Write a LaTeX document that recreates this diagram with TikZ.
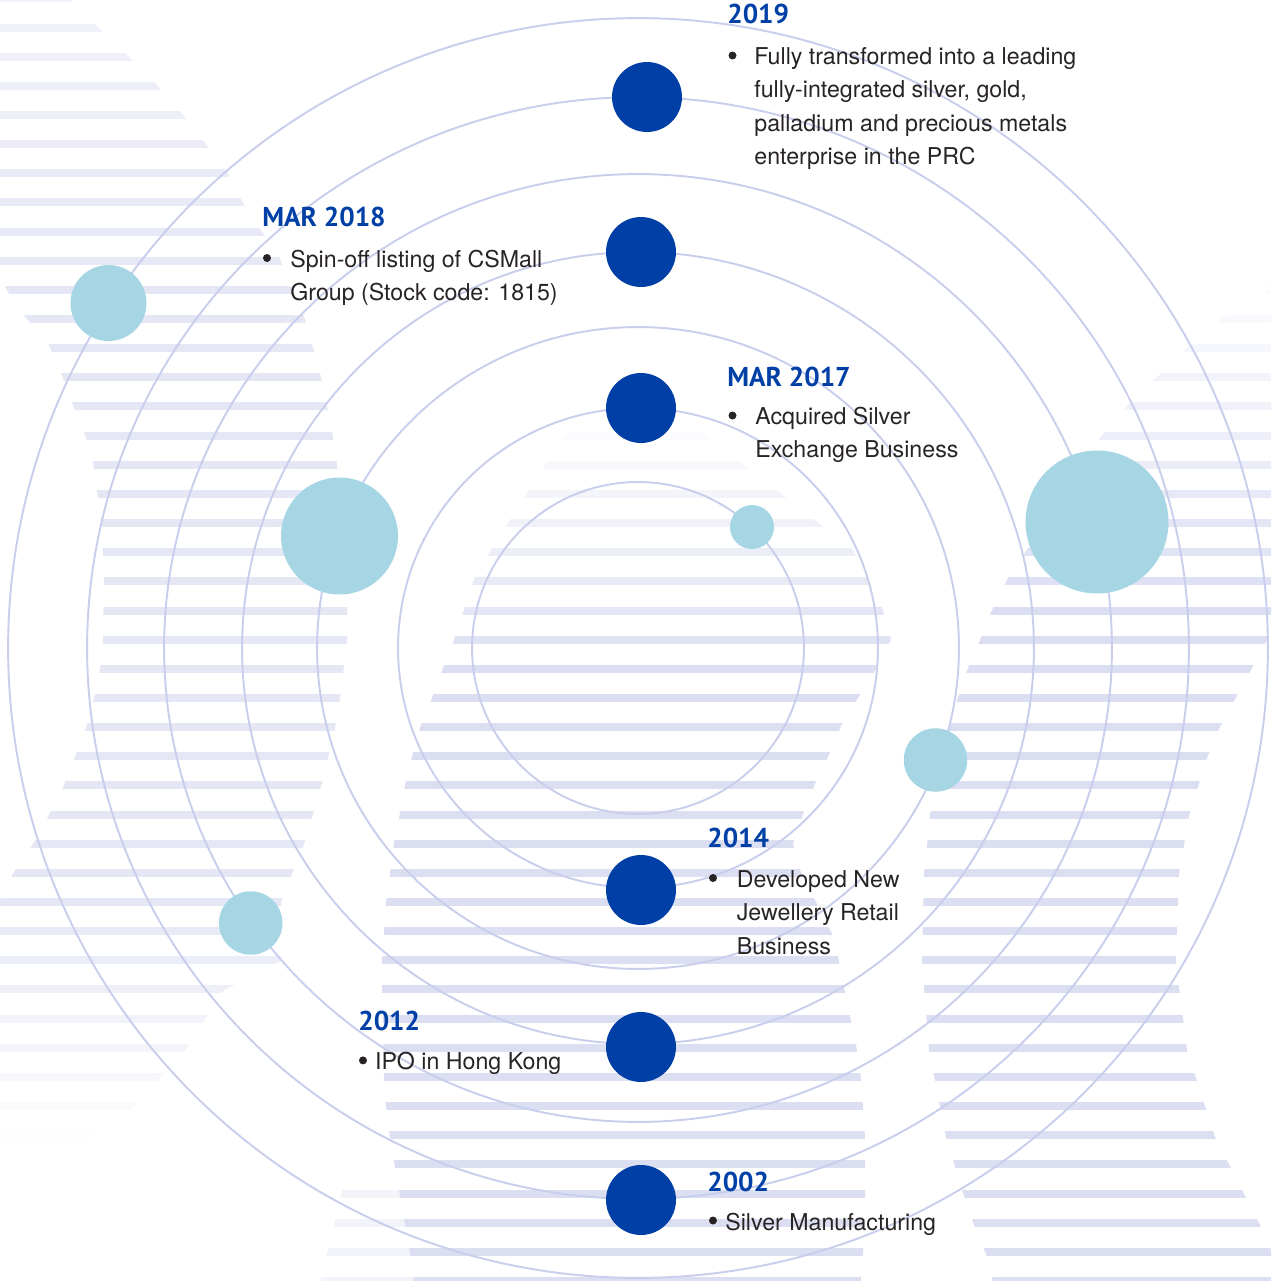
\documentclass[tikz,border=0pt]{standalone}
\usepackage{fontspec}
\setmainfont{TeX Gyre Heros}
\newfontfamily\yearfont{PT Sans}
\usepackage{xcolor}
\usepackage{tikz}

\definecolor{dotblue}{RGB}{0,64,166}
\definecolor{dotcyan}{RGB}{166,214,228}
\definecolor{ringblue}{RGB}{200,206,236}
\definecolor{stripeblue}{RGB}{220,223,242}
\definecolor{bodygray}{RGB}{40,36,37}

\tikzset{
  stripe/.style={fill=stripeblue},
  ring/.style={draw=ringblue, line width=1.1pt},
  darkdot/.style={circle, fill=dotblue, inner sep=0pt, minimum size=1.4cm},
  lightdot/.style={circle, fill=dotcyan, inner sep=0pt},
  bulletdot/.style={circle, fill=bodygray, inner sep=0pt, minimum size=0.16cm},
  yearlabel/.style={anchor=base west, inner sep=0pt, text=dotblue,
    font=\yearfont\bfseries\fontsize{15.5}{18}\selectfont},
  bodytext/.style={anchor=base west, inner sep=0pt, text=bodygray,
    font=\fontsize{13.2}{19}\selectfont},
}

\begin{document}
\begin{tikzpicture}[x=0.02cm, y=-0.02cm]
  \useasboundingbox (0,0) rectangle (1271,1281);
  \clip (0,0) rectangle (1271,1281);

  % striped background, left band
  \begin{scope}
    \clip (0,-10) -- (62,-10) -- (98,27) -- (128,56) -- (157,85) -- (182,114)
      -- (205,143) -- (227,172) -- (243,203) -- (280,259) -- (304,316)
      -- (320,373) -- (332,430) -- (340,486) -- (346,560) -- (348,632)
      -- (340,700) -- (335,728) -- (321,787) -- (304,844) -- (292,874)
      -- (281,902) -- (281,961) -- (223,991) -- (187,1048) -- (134,1107)
      -- (60,1160) -- (0,1180) -- (0,900) -- (14,872) -- (33,844) -- (49,815)
      -- (63,787) -- (75,757) -- (86,728) -- (94,698) -- (100,669)
      -- (103,640) -- (104,575) -- (101,519) -- (93,462) -- (85,434)
      -- (73,405) -- (61,373) -- (49,345) -- (26,318) -- (6,289) -- (0,275)
      -- cycle;
    \foreach \k in {0,...,44} {
      \pgfmathsetmacro\yc{-1.65+29.15*\k}
      \pgfmathsetmacro\op{max(0,min(0.75,0.4+\yc/800,(1150-\yc)/330))}
      \fill[stripe, fill opacity=\op] (-10,\yc-4) rectangle (1290,\yc+4);
    }
  \end{scope}

  % striped background, centre group
  \begin{scope}
    \clip (630,415) -- (700,430) -- (853,550) -- (883,610) -- (891,640)
      -- (876,669) -- (858,698) -- (841,726) -- (828,757) -- (814,786)
      -- (803,814) -- (793,844) -- (800,870) -- (835,940) -- (845,992)
      -- (851,1021) -- (857,1050) -- (861,1079) -- (865,1137) -- (865,1230)
      -- (860,1290) -- (415,1290) -- (410,1254) -- (405,1225) -- (400,1196)
      -- (395,1167) -- (390,1137) -- (386,1107) -- (384,1078) -- (382,991)
      -- (382,961) -- (384,933) -- (386,904) -- (390,874) -- (394,843)
      -- (400,813) -- (405,785) -- (412,757) -- (420,728) -- (432,698)
      -- (443,668) -- (454,640) -- (474,579) -- (491,550) -- (527,493)
      -- (566,433) -- cycle;
    \foreach \k in {0,...,44} {
      \pgfmathsetmacro\yc{-1.65+29.15*\k}
      \pgfmathsetmacro\op{max(0,min(1,(\yc-410)/260))}
      \fill[stripe, fill opacity=\op] (-10,\yc-4) rectangle (1290,\yc+4);
    }
  \end{scope}
  \begin{scope}
    \clip (345,1180) -- (400,1180) -- (415,1290) -- (318,1290) -- cycle;
    \foreach \k in {40,...,44} {
      \pgfmathsetmacro\yc{-1.65+29.15*\k}
      \fill[stripe, fill opacity=0.35] (-10,\yc-4) rectangle (1290,\yc+4);
    }
  \end{scope}

  % striped background, right group
  \begin{scope}
    \clip (1271,270) -- (1267,290) -- (1222,318) -- (1187,347) -- (1157,377)
      -- (1128,405) -- (1102,435) -- (1007,580) -- (992,610) -- (980,640)
      -- (968,668) -- (958,697) -- (948,729) -- (938,758) -- (930,816)
      -- (924,874) -- (922,962) -- (929,1050) -- (946,1137) -- (964,1196)
      -- (974,1225) -- (986,1254) -- (995,1290) -- (1271,1290)
      -- (1271,1250) -- (1260,1225) -- (1215,1137) -- (1187,1050)
      -- (1176,962) -- (1179,874) -- (1189,816) -- (1207,758) -- (1219,729)
      -- (1235,699) -- (1252,668) -- (1267,640) -- (1271,630) -- cycle;
    \foreach \k in {0,...,44} {
      \pgfmathsetmacro\yc{-1.65+29.15*\k}
      \pgfmathsetmacro\op{max(0,min(1,(\yc-260)/340))}
      \fill[stripe, fill opacity=\op] (-10,\yc-4) rectangle (1290,\yc+4);
    }
  \end{scope}

  % rings
  \coordinate (ctr) at (638,648);
  \draw[ring] (ctr) circle[radius=3.32cm];
  \draw[ring] (ctr) circle[radius=4.80cm];
  \draw[ring] (ctr) circle[radius=6.42cm];
  \draw[ring] (ctr) circle[radius=7.92cm];
  \draw[ring] (ctr) circle[radius=9.48cm];
  \draw[ring] (ctr) circle[radius=11.02cm];
  \draw[ring] (ctr) circle[radius=12.60cm];

  % light dots
  \node[lightdot, minimum size=1.52cm] (orbA) at (108.5,303) {};
  \node[lightdot, minimum size=2.34cm] (orbB) at (339.5,536) {};
  \node[lightdot, minimum size=0.88cm] (orbC) at (752,527) {};
  \node[lightdot, minimum size=2.86cm] (orbD) at (1097,522) {};
  \node[lightdot, minimum size=1.27cm] (orbE) at (935.5,760) {};
  \node[lightdot, minimum size=1.27cm] (orbF) at (250.7,923) {};

  % milestone dots
  \node[darkdot] (d2019) at (647,97) {};
  \node[darkdot] (d2018) at (641,252) {};
  \node[darkdot] (d2017) at (641,408) {};
  \node[darkdot] (d2014) at (641,890) {};
  \node[darkdot] (d2012) at (641,1047) {};
  \node[darkdot] (d2002) at (641,1200) {};

  % 2019
  \node[yearlabel] (y2019) at (727,23.5) {2019};
  \node[bulletdot] (b2019) at (732.5,55.5) {};
  \node[bodytext] (t2019) at (754,64.5) {\begin{tabular}[t]{@{}l@{}}
    Fully transformed into a leading\\
    fully-integrated silver, gold,\\
    palladium and precious metals\\
    enterprise in the PRC\end{tabular}};

  % MAR 2018
  \node[yearlabel] (y2018) at (262,226.5) {MAR 2018};
  \node[bulletdot] (b2018) at (267,258) {};
  \node[bodytext] (t2018) at (290,267.3) {\begin{tabular}[t]{@{}l@{}}
    Spin-off listing of CSMall\\
    Group (Stock code: 1815)\end{tabular}};

  % MAR 2017
  \node[yearlabel] (y2017) at (727,386) {MAR 2017};
  \node[bulletdot] (b2017) at (732.5,415.5) {};
  \node[bodytext] (t2017) at (755,424.5) {\begin{tabular}[t]{@{}l@{}}
    Acquired Silver\\
    Exchange Business\end{tabular}};

  % 2014
  \node[yearlabel] (y2014) at (707,847) {2014};
  \node[bulletdot] (b2014) at (713,878) {};
  \node[bodytext] (t2014) at (736.5,887.3) {\begin{tabular}[t]{@{}l@{}}
    Developed New\\
    Jewellery Retail\\
    Business\end{tabular}};

  % 2012
  \node[yearlabel] (y2012) at (358,1030) {2012};
  \node[bulletdot] (b2012) at (363,1060.4) {};
  \node[bodytext] (t2012) at (374.7,1069.4) {IPO in Hong Kong};

  % 2002
  \node[yearlabel] (y2002) at (707,1191) {2002};
  \node[bulletdot] (b2002) at (713,1220.5) {};
  \node[bodytext] (t2002) at (725,1230.7) {Silver Manufacturing};
\end{tikzpicture}
\end{document}
